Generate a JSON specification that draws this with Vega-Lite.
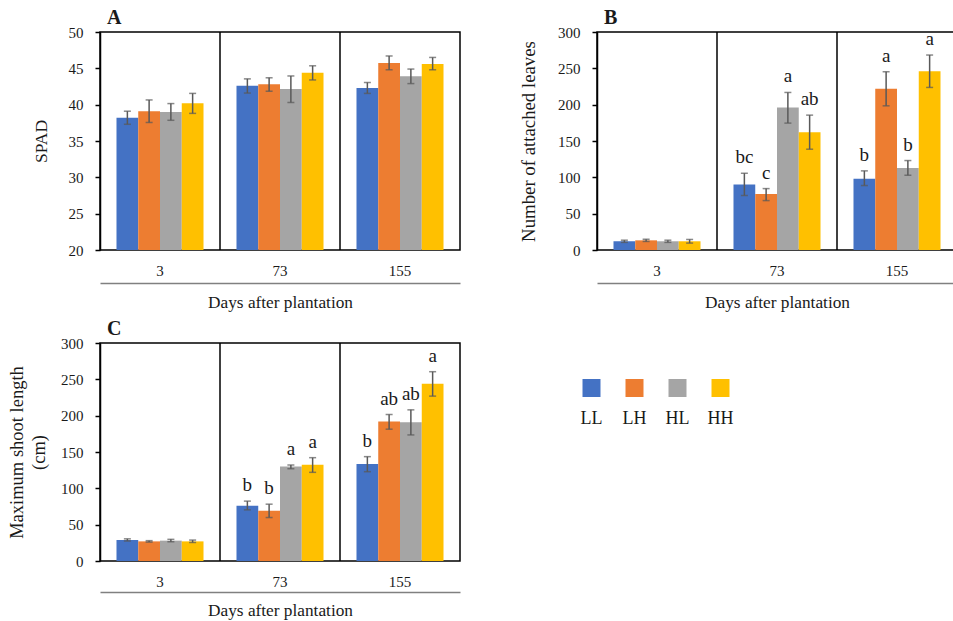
{
  "$schema": "https://vega.github.io/schema/vega-lite/v6.json",
  "padding": {"left": 6, "top": 7, "right": 0, "bottom": 0},
  "background": "white",
  "config": {
    "font": "Liberation Serif",
    "view": {"stroke": "black", "strokeWidth": 1.5},
    "axis": {"labelFontSize": 15, "titleFontSize": 17.5, "titleFontWeight": "normal", "labelColor": "#1a1a1a", "titleColor": "#1a1a1a", "grid": false},
    "title": {"font": "Liberation Serif", "fontSize": 20, "fontWeight": "bold", "color": "#1a1a1a", "anchor": "start", "frame": "group", "dx": 7, "offset": -3}
  },
  "datasets": {
    "spad": [
      {"day": "3", "trt": "LL", "v": 38.2, "lo": 37.3, "hi": 39.1, "lab": ""},
      {"day": "3", "trt": "LH", "v": 39.1, "lo": 37.55, "hi": 40.65, "lab": ""},
      {"day": "3", "trt": "HL", "v": 39.0, "lo": 37.85, "hi": 40.15, "lab": ""},
      {"day": "3", "trt": "HH", "v": 40.2, "lo": 38.8, "hi": 41.55, "lab": ""},
      {"day": "73", "trt": "LL", "v": 42.6, "lo": 41.6, "hi": 43.55, "lab": ""},
      {"day": "73", "trt": "LH", "v": 42.8, "lo": 41.85, "hi": 43.7, "lab": ""},
      {"day": "73", "trt": "HL", "v": 42.15, "lo": 40.3, "hi": 43.95, "lab": ""},
      {"day": "73", "trt": "HH", "v": 44.4, "lo": 43.4, "hi": 45.35, "lab": ""},
      {"day": "155", "trt": "LL", "v": 42.3, "lo": 41.55, "hi": 43.05, "lab": ""},
      {"day": "155", "trt": "LH", "v": 45.75, "lo": 44.8, "hi": 46.7, "lab": ""},
      {"day": "155", "trt": "HL", "v": 43.9, "lo": 42.9, "hi": 44.9, "lab": ""},
      {"day": "155", "trt": "HH", "v": 45.6, "lo": 44.8, "hi": 46.5, "lab": ""}
    ],
    "leaves": [
      {"day": "3", "trt": "LL", "v": 12, "lo": 10.5, "hi": 13.5, "lab": ""},
      {"day": "3", "trt": "LH", "v": 13.3, "lo": 11.8, "hi": 14.8, "lab": ""},
      {"day": "3", "trt": "HL", "v": 12, "lo": 10.5, "hi": 13.5, "lab": ""},
      {"day": "3", "trt": "HH", "v": 12, "lo": 9.5, "hi": 14.5, "lab": ""},
      {"day": "73", "trt": "LL", "v": 90, "lo": 75, "hi": 105.6, "lab": "bc"},
      {"day": "73", "trt": "LH", "v": 77, "lo": 68, "hi": 84.5, "lab": "c"},
      {"day": "73", "trt": "HL", "v": 196, "lo": 174.6, "hi": 216.8, "lab": "a"},
      {"day": "73", "trt": "HH", "v": 162, "lo": 138.7, "hi": 185.6, "lab": "ab"},
      {"day": "155", "trt": "LL", "v": 98, "lo": 88.7, "hi": 108.9, "lab": "b"},
      {"day": "155", "trt": "LH", "v": 222, "lo": 198.4, "hi": 245.3, "lab": "a"},
      {"day": "155", "trt": "HL", "v": 113, "lo": 102.9, "hi": 123.1, "lab": "b"},
      {"day": "155", "trt": "HH", "v": 246, "lo": 223.7, "hi": 268.3, "lab": "a"}
    ],
    "shoot": [
      {"day": "3", "trt": "LL", "v": 29, "lo": 27.5, "hi": 30.5, "lab": ""},
      {"day": "3", "trt": "LH", "v": 27, "lo": 26, "hi": 28, "lab": ""},
      {"day": "3", "trt": "HL", "v": 28, "lo": 26.5, "hi": 29.8, "lab": ""},
      {"day": "3", "trt": "HH", "v": 27, "lo": 25.5, "hi": 28.8, "lab": ""},
      {"day": "73", "trt": "LL", "v": 76, "lo": 70.4, "hi": 82.4, "lab": "b"},
      {"day": "73", "trt": "LH", "v": 69, "lo": 59.8, "hi": 78.2, "lab": "b"},
      {"day": "73", "trt": "HL", "v": 130, "lo": 127, "hi": 132.1, "lab": "a"},
      {"day": "73", "trt": "HH", "v": 132.5, "lo": 122, "hi": 142.2, "lab": "a"},
      {"day": "155", "trt": "LL", "v": 133.5, "lo": 122.9, "hi": 143.6, "lab": "b"},
      {"day": "155", "trt": "LH", "v": 192, "lo": 181.4, "hi": 201.6, "lab": "ab"},
      {"day": "155", "trt": "HL", "v": 191, "lo": 173.5, "hi": 208, "lab": "ab"},
      {"day": "155", "trt": "HH", "v": 244, "lo": 226.9, "hi": 260.5, "lab": "a"}
    ],
    "dividers": [{"day": "73"}, {"day": "155"}],
    "legend": [{"trt": "LL"}, {"trt": "LH"}, {"trt": "HL"}, {"trt": "HH"}]
  },
  "vconcat": [
    {
      "spacing": 57,
      "hconcat": [
        {
          "title": {"text": "A"},
          "width": 360, "height": 218,
          "layer": [
            {
              "data": {"name": "spad"},
              "mark": {"type": "bar"},
              "encoding": {
                "x": {"field": "day", "type": "nominal", "sort": ["3", "73", "155"], "scale": {"paddingInner": 0, "paddingOuter": 0}, "axis": {"orient": "bottom", "title": null, "labelAngle": 0, "ticks": false, "domain": false, "labelPadding": 13}},
                "xOffset": {"field": "trt", "type": "nominal", "sort": ["LL", "LH", "HL", "HH"], "scale": {"paddingInner": 0, "paddingOuter": 0.758}},
                "y": {"field": "v", "type": "quantitative", "scale": {"domain": [20, 50], "zero": false}, "axis": {"title": "SPAD", "values": [20, 25, 30, 35, 40, 45, 50], "domainColor": "black", "domainWidth": 1.5, "tickColor": "black", "tickWidth": 1.5, "tickSize": 5, "labelPadding": 12, "titlePadding": 18}},
                "y2": {"datum": 20},
                "color": {"field": "trt", "type": "nominal", "scale": {"domain": ["LL", "LH", "HL", "HH"], "range": ["#4472C4", "#ED7D31", "#A5A5A5", "#FFC000"]}, "legend": null}
              }
            },
            {
              "data": {"name": "spad"},
              "mark": {"type": "rule", "color": "#595959", "strokeWidth": 1.5},
              "encoding": {
                "x": {"field": "day", "type": "nominal", "sort": ["3", "73", "155"], "axis": null},
                "xOffset": {"field": "trt", "type": "nominal", "sort": ["LL", "LH", "HL", "HH"]},
                "y": {"field": "lo", "type": "quantitative", "axis": null},
                "y2": {"field": "hi"}
              }
            },
            {
              "data": {"name": "spad"},
              "mark": {"type": "tick", "color": "#595959", "thickness": 1.5, "size": 7, "orient": "horizontal"},
              "encoding": {
                "x": {"field": "day", "type": "nominal", "sort": ["3", "73", "155"], "axis": null},
                "xOffset": {"field": "trt", "type": "nominal", "sort": ["LL", "LH", "HL", "HH"]},
                "y": {"field": "lo", "type": "quantitative", "axis": null}
              }
            },
            {
              "data": {"name": "spad"},
              "mark": {"type": "tick", "color": "#595959", "thickness": 1.5, "size": 7, "orient": "horizontal"},
              "encoding": {
                "x": {"field": "day", "type": "nominal", "sort": ["3", "73", "155"], "axis": null},
                "xOffset": {"field": "trt", "type": "nominal", "sort": ["LL", "LH", "HL", "HH"]},
                "y": {"field": "hi", "type": "quantitative", "axis": null}
              }
            },
            {
              "data": {"name": "dividers"},
              "mark": {"type": "rule", "color": "black", "strokeWidth": 1.5},
              "encoding": {
                "x": {"field": "day", "type": "nominal", "sort": ["3", "73", "155"], "bandPosition": 0, "axis": {"orient": "bottom", "title": "Days after plantation", "labels": false, "ticks": false, "domain": true, "domainColor": "#808080", "domainWidth": 1.5, "offset": 33, "titlePadding": 10, "titleFontSize": 17.3}}
              }
            }
          ],
          "resolve": {"axis": {"x": "independent", "y": "independent"}}
        },
        {
          "title": {"text": "B"},
          "width": 360, "height": 218,
          "layer": [
            {
              "data": {"name": "leaves"},
              "mark": {"type": "bar"},
              "encoding": {
                "x": {"field": "day", "type": "nominal", "sort": ["3", "73", "155"], "scale": {"paddingInner": 0, "paddingOuter": 0}, "axis": {"orient": "bottom", "title": null, "labelAngle": 0, "ticks": false, "domain": false, "labelPadding": 13}},
                "xOffset": {"field": "trt", "type": "nominal", "sort": ["LL", "LH", "HL", "HH"], "scale": {"paddingInner": 0, "paddingOuter": 0.758}},
                "y": {"field": "v", "type": "quantitative", "scale": {"domain": [0, 300]}, "axis": {"title": "Number of attached leaves", "titleFontSize": 18.8, "values": [0, 50, 100, 150, 200, 250, 300], "domainColor": "black", "domainWidth": 1.5, "tickColor": "black", "tickWidth": 1.5, "tickSize": 5, "labelPadding": 12, "titlePadding": 19}},
                "color": {"field": "trt", "type": "nominal", "scale": {"domain": ["LL", "LH", "HL", "HH"], "range": ["#4472C4", "#ED7D31", "#A5A5A5", "#FFC000"]}, "legend": null}
              }
            },
            {
              "data": {"name": "leaves"},
              "mark": {"type": "rule", "color": "#595959", "strokeWidth": 1.5},
              "encoding": {
                "x": {"field": "day", "type": "nominal", "sort": ["3", "73", "155"], "axis": null},
                "xOffset": {"field": "trt", "type": "nominal", "sort": ["LL", "LH", "HL", "HH"]},
                "y": {"field": "lo", "type": "quantitative", "axis": null},
                "y2": {"field": "hi"}
              }
            },
            {
              "data": {"name": "leaves"},
              "mark": {"type": "tick", "color": "#595959", "thickness": 1.5, "size": 7, "orient": "horizontal"},
              "encoding": {
                "x": {"field": "day", "type": "nominal", "sort": ["3", "73", "155"], "axis": null},
                "xOffset": {"field": "trt", "type": "nominal", "sort": ["LL", "LH", "HL", "HH"]},
                "y": {"field": "lo", "type": "quantitative", "axis": null}
              }
            },
            {
              "data": {"name": "leaves"},
              "mark": {"type": "tick", "color": "#595959", "thickness": 1.5, "size": 7, "orient": "horizontal"},
              "encoding": {
                "x": {"field": "day", "type": "nominal", "sort": ["3", "73", "155"], "axis": null},
                "xOffset": {"field": "trt", "type": "nominal", "sort": ["LL", "LH", "HL", "HH"]},
                "y": {"field": "hi", "type": "quantitative", "axis": null}
              }
            },
            {
              "data": {"name": "leaves"},
              "mark": {"type": "text", "fontSize": 19, "baseline": "alphabetic", "dy": -10, "color": "#1a1a1a"},
              "encoding": {
                "x": {"field": "day", "type": "nominal", "sort": ["3", "73", "155"], "axis": null},
                "xOffset": {"field": "trt", "type": "nominal", "sort": ["LL", "LH", "HL", "HH"]},
                "y": {"field": "hi", "type": "quantitative", "axis": null},
                "text": {"field": "lab"}
              }
            },
            {
              "data": {"name": "dividers"},
              "mark": {"type": "rule", "color": "black", "strokeWidth": 1.5},
              "encoding": {
                "x": {"field": "day", "type": "nominal", "sort": ["3", "73", "155"], "bandPosition": 0, "axis": {"orient": "bottom", "title": "Days after plantation", "labels": false, "ticks": false, "domain": true, "domainColor": "#808080", "domainWidth": 1.5, "offset": 33, "titlePadding": 10, "titleFontSize": 17.3}}
              }
            }
          ],
          "resolve": {"axis": {"x": "independent", "y": "independent"}}
        }
      ]
    },
    {
      "spacing": 109,
      "hconcat": [
        {
          "title": {"text": "C"},
          "width": 360, "height": 218,
          "layer": [
            {
              "data": {"name": "shoot"},
              "mark": {"type": "bar"},
              "encoding": {
                "x": {"field": "day", "type": "nominal", "sort": ["3", "73", "155"], "scale": {"paddingInner": 0, "paddingOuter": 0}, "axis": {"orient": "bottom", "title": null, "labelAngle": 0, "ticks": false, "domain": false, "labelPadding": 13}},
                "xOffset": {"field": "trt", "type": "nominal", "sort": ["LL", "LH", "HL", "HH"], "scale": {"paddingInner": 0, "paddingOuter": 0.758}},
                "y": {"field": "v", "type": "quantitative", "scale": {"domain": [0, 300]}, "axis": {"title": ["Maximum shoot length", "(cm)"], "titleFontSize": 18.5, "titleLineHeight": 22, "values": [0, 50, 100, 150, 200, 250, 300], "domainColor": "black", "domainWidth": 1.5, "tickColor": "black", "tickWidth": 1.5, "tickSize": 5, "labelPadding": 12, "titlePadding": 12}},
                "color": {"field": "trt", "type": "nominal", "scale": {"domain": ["LL", "LH", "HL", "HH"], "range": ["#4472C4", "#ED7D31", "#A5A5A5", "#FFC000"]}, "legend": null}
              }
            },
            {
              "data": {"name": "shoot"},
              "mark": {"type": "rule", "color": "#595959", "strokeWidth": 1.5},
              "encoding": {
                "x": {"field": "day", "type": "nominal", "sort": ["3", "73", "155"], "axis": null},
                "xOffset": {"field": "trt", "type": "nominal", "sort": ["LL", "LH", "HL", "HH"]},
                "y": {"field": "lo", "type": "quantitative", "axis": null},
                "y2": {"field": "hi"}
              }
            },
            {
              "data": {"name": "shoot"},
              "mark": {"type": "tick", "color": "#595959", "thickness": 1.5, "size": 7, "orient": "horizontal"},
              "encoding": {
                "x": {"field": "day", "type": "nominal", "sort": ["3", "73", "155"], "axis": null},
                "xOffset": {"field": "trt", "type": "nominal", "sort": ["LL", "LH", "HL", "HH"]},
                "y": {"field": "lo", "type": "quantitative", "axis": null}
              }
            },
            {
              "data": {"name": "shoot"},
              "mark": {"type": "tick", "color": "#595959", "thickness": 1.5, "size": 7, "orient": "horizontal"},
              "encoding": {
                "x": {"field": "day", "type": "nominal", "sort": ["3", "73", "155"], "axis": null},
                "xOffset": {"field": "trt", "type": "nominal", "sort": ["LL", "LH", "HL", "HH"]},
                "y": {"field": "hi", "type": "quantitative", "axis": null}
              }
            },
            {
              "data": {"name": "shoot"},
              "mark": {"type": "text", "fontSize": 19, "baseline": "alphabetic", "dy": -10, "color": "#1a1a1a"},
              "encoding": {
                "x": {"field": "day", "type": "nominal", "sort": ["3", "73", "155"], "axis": null},
                "xOffset": {"field": "trt", "type": "nominal", "sort": ["LL", "LH", "HL", "HH"]},
                "y": {"field": "hi", "type": "quantitative", "axis": null},
                "text": {"field": "lab"}
              }
            },
            {
              "data": {"name": "dividers"},
              "mark": {"type": "rule", "color": "black", "strokeWidth": 1.5},
              "encoding": {
                "x": {"field": "day", "type": "nominal", "sort": ["3", "73", "155"], "bandPosition": 0, "axis": {"orient": "bottom", "title": "Days after plantation", "labels": false, "ticks": false, "domain": true, "domainColor": "#808080", "domainWidth": 1.5, "offset": 31, "titlePadding": 9, "titleFontSize": 17.3}}
              }
            }
          ],
          "resolve": {"axis": {"x": "independent", "y": "independent"}}
        },
        {
          "width": 172, "height": 90,
          "view": {"stroke": null},
          "data": {"name": "legend"},
          "encoding": {
            "x": {"field": "trt", "type": "nominal", "sort": ["LL", "LH", "HL", "HH"], "axis": null, "scale": {"paddingInner": 0, "paddingOuter": 0}}
          },
          "layer": [
            {
              "mark": {"type": "point", "shape": "square", "filled": true, "size": 324, "opacity": 1},
              "encoding": {
                "color": {"field": "trt", "type": "nominal", "scale": {"domain": ["LL", "LH", "HL", "HH"], "range": ["#4472C4", "#ED7D31", "#A5A5A5", "#FFC000"]}, "legend": null}
              }
            },
            {
              "mark": {"type": "text", "fontSize": 18, "baseline": "middle", "dy": 31, "color": "#1a1a1a"},
              "encoding": {"text": {"field": "trt"}}
            }
          ]
        }
      ]
    }
  ],
  "spacing": 6
}
